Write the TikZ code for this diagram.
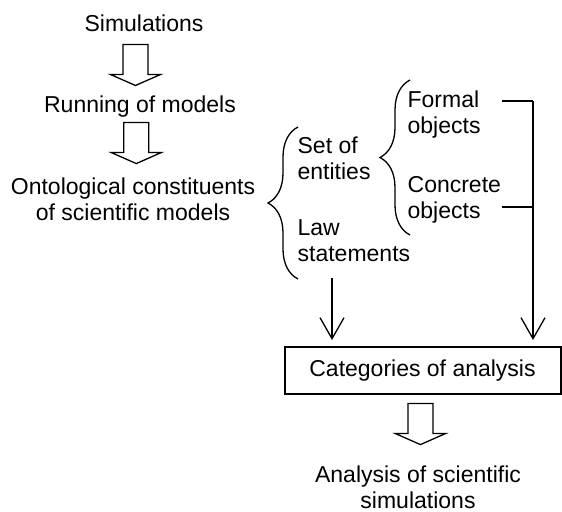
\documentclass[tikz,border=0pt]{standalone}
\usepackage{fontspec}
\setmainfont{Liberation Sans}
\usetikzlibrary{arrows.meta,decorations.pathreplacing}
\tikzset{
  fat/.pic={\draw (-12.5,-20.5) -- (12.5,-20.5) -- (12.5,9.5) -- (25,9.5)
              -- (0,20.5) -- (-25,9.5) -- (-12.5,9.5) -- cycle;},
  lbl/.style={align=left, anchor=west, inner sep=0pt},
  cbrace/.style={decorate, decoration={brace, amplitude=15pt}},
  barb/.style={-{Straight Barb[length=10.5pt,width=12pt]}, shorten >=3pt}
}
\begin{document}
\begin{tikzpicture}[x=0.5pt, y=-0.5pt, line width=0.65pt,
    font=\fontsize{11.5}{13}\selectfont]
      \useasboundingbox (0,0) rectangle (562,512);
      \node (sim) at (144,23) {Simulations};
      \node (run) at (140,107) {Running of models};
      \node (onto) [align=center] at (133,199.5) {Ontological constituents\\of scientific models};
      \node (ent) [lbl] at (297,158.5) {Set of\\entities};
      \node (law) [lbl] at (297,240.5) {Law\\statements};
      \node (formal) [lbl] at (407,114.5) {Formal\\objects};
      \node (concrete) [lbl] at (407,199.5) {Concrete\\objects};
      \node (cat) [draw, line width=1pt, minimum width=138pt, minimum height=23.5pt]
            at (422.5,370.5) {Categories of analysis};
      \node (ana) [align=center] at (418,487) {Analysis of scientific\\simulations};
      \path (sim.center) -- (run.center) pic [pos=.5, xshift=-3.25pt] {fat}
            (run.center) -- (onto.center) pic [pos=.39, xshift=-0.5pt] {fat}
            (cat.center) -- (ana.center) pic [pos=.46] {fat};
      \draw[cbrace] (298,279) -- (298,127);
      \draw[cbrace] (410,235) -- (410,80);
      \draw (502,101) -- (533,101) coordinate (fj)
            (502,207) -- (533,207);
      \coordinate (lawend) at (332,278);
      \draw[barb] (fj) -- (fj |- cat.north);
      \draw[barb] (lawend) -- (lawend |- cat.north);
\end{tikzpicture}
\end{document}
